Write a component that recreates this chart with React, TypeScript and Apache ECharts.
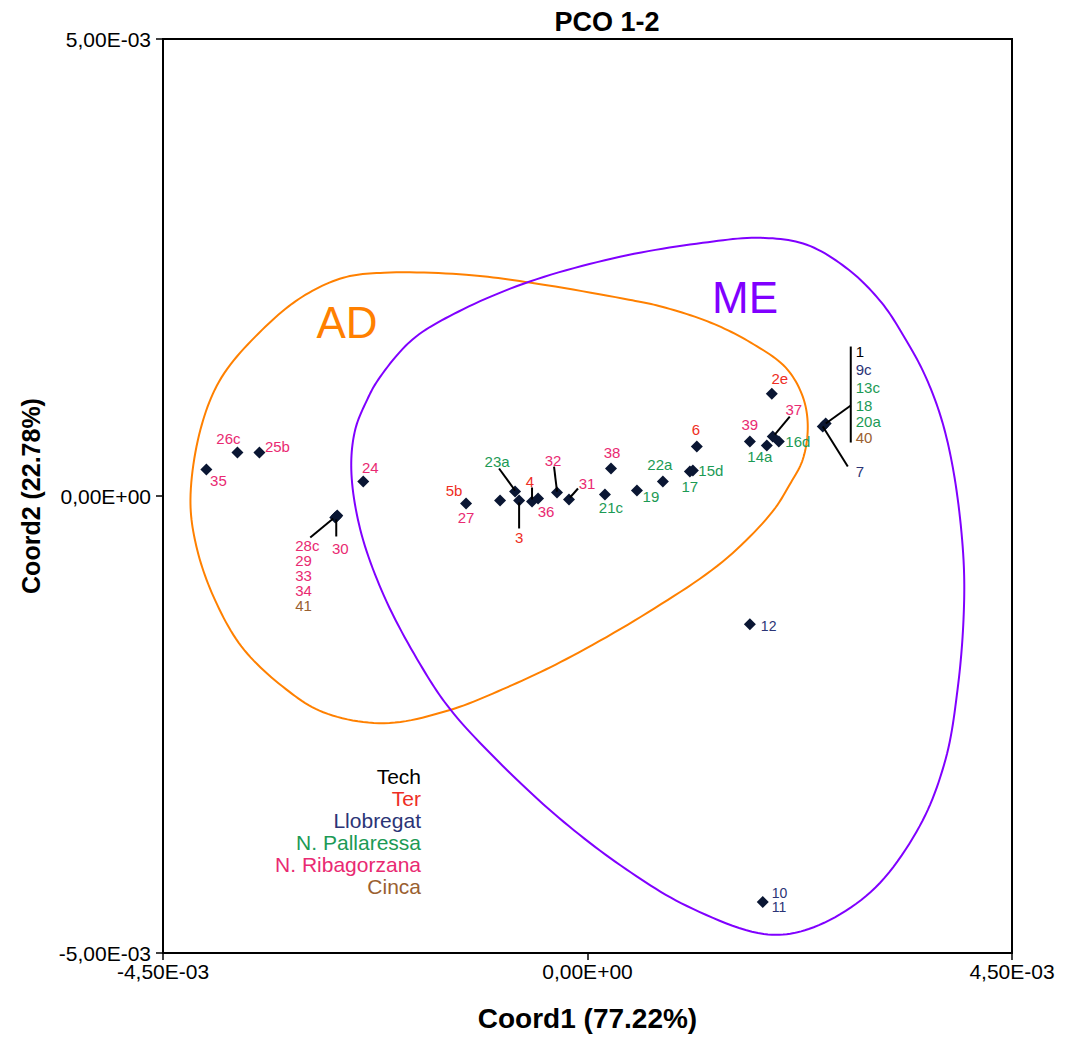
import React, { useEffect, useRef } from "react";
import * as echarts from "echarts";

// ---------- data ----------
const pointIds = [
  "35", "26c", "25b", "24", "28c", "29", "30", "27", "u", "23a", "3", "4", "36", "32", "31",
  "38", "21c", "19", "22a", "17", "15d", "6", "2e", "39", "14a", "37", "16d", "7", "1", "12", "10",
];
const coord1 = [
  -4.04e-3, -3.711e-3, -3.478e-3, -2.377e-3, -2.674e-3, -2.653e-3, -2.66e-3, -1.287e-3, -0.927e-3, -0.768e-3,
  -0.725e-3, -0.588e-3, -0.524e-3, -0.323e-3, -0.196e-3, 0.249e-3, 0.185e-3, 0.524e-3, 0.799e-3, 1.085e-3,
  1.117e-3, 1.159e-3, 1.954e-3, 1.721e-3, 1.901e-3, 1.964e-3, 2.028e-3, 2.494e-3, 2.525e-3, 1.721e-3, 1.858e-3,
];
const coord2 = [
  0.29e-3, 0.475e-3, 0.475e-3, 0.158e-3, -0.235e-3, -0.213e-3, -0.225e-3, -0.082e-3, -0.049e-3, 0.049e-3,
  -0.049e-3, -0.06e-3, -0.027e-3, 0.038e-3, -0.038e-3, 0.301e-3, 0.016e-3, 0.06e-3, 0.158e-3, 0.268e-3,
  0.279e-3, 0.541e-3, 1.12e-3, 0.596e-3, 0.552e-3, 0.65e-3, 0.596e-3, 0.76e-3, 0.792e-3, -1.404e-3, -4.443e-3,
];

// group outlines (Coord1, Coord2)
const adX = [
  -4.209e-3, -4.146e-3, -3.966e-3, -3.669e-3, -3.235e-3, -2.801e-3, -2.155e-3, -1.467e-3, -0.852e-3, -0.228e-3,
  0.641e-3, 1.435e-3, 1.954e-3, 2.144e-3, 2.282e-3, 2.335e-3, 2.282e-3, 2.102e-3, 1.731e-3, 1.308e-3,
  0.789e-3, 0.439e-3, -0.598e-3, -1.287e-3, -2.155e-3, -2.589e-3, -3.023e-3, -3.447e-3, -3.881e-3, -4.103e-3,
];
const adY = [
  -0.038e-3, -0.552e-3, -1.098e-3, -1.645e-3, -2.082e-3, -2.366e-3, -2.486e-3, -2.344e-3, -2.093e-3, -1.786e-3,
  -1.273e-3, -0.716e-3, -0.18e-3, 0.126e-3, 0.399e-3, 0.76e-3, 1.087e-3, 1.404e-3, 1.678e-3, 1.896e-3,
  2.071e-3, 2.148e-3, 2.333e-3, 2.421e-3, 2.443e-3, 2.388e-3, 2.18e-3, 1.82e-3, 1.295e-3, 0.727e-3,
];
const meX = [
  -2.504e-3, -2.462e-3, -2.335e-3, -2.218e-3, -1.858e-3, -1.371e-3, -0.619e-3, 0.344e-3, 1.223e-3, 1.837e-3,
  2.324e-3, 2.769e-3, 3.118e-3, 3.362e-3, 3.574e-3, 3.754e-3, 3.891e-3, 3.986e-3, 3.986e-3, 3.923e-3,
  3.796e-3, 3.521e-3, 3.002e-3, 2.345e-3, 1.869e-3, 1.054e-3, 0.408e-3, -0.249e-3, -0.895e-3, -1.456e-3,
  -1.774e-3, -2.155e-3, -2.409e-3,
];
const meY = [
  0.29e-3, 0.727e-3, 1.055e-3, 1.273e-3, 1.71e-3, 2.016e-3, 2.344e-3, 2.617e-3, 2.77e-3, 2.825e-3,
  2.749e-3, 2.475e-3, 2.115e-3, 1.732e-3, 1.328e-3, 0.836e-3, 0.202e-3, -0.694e-3, -1.35e-3, -2.115e-3,
  -2.88e-3, -3.612e-3, -4.333e-3, -4.738e-3, -4.792e-3, -4.486e-3, -4.082e-3, -3.568e-3, -2.956e-3, -2.333e-3,
  -1.841e-3, -1.098e-3, -0.366e-3,
];

const groupNames = ["Tech", "Ter", "Llobregat", "N. Pallaressa", "N. Ribagorzana", "Cinca"];
const groupColors = ["#000000", "#ee2e24", "#2b3476", "#1c9a55", "#e92a72", "#9a6030"];

// label annotations: point, text, group index
const labelAt = ["35","26c","25b","24","28c","28c","28c","28c","28c","28c","27","27","23a","3","4","36","32","31","38","21c","19","22a","17","15d","6","2e","39","14a","37","16d","7","7","7","7","7","7","7","12","10","10"];
const labelText = ["35","26c","25b","24","28c","29","33","34","41","30","5b","27","23a","3","4","36","32","31","38","21c","19","22a","17","15d","6","2e","39","14a","37","16d","1","9c","13c","18","20a","40","7","12","10","11"];
const labelGroup = [4,4,4,4,4,4,4,4,5,4,1,4,3,1,1,4,4,4,4,3,3,3,3,3,1,1,4,3,4,3,0,2,3,3,3,5,2,2,2,2];

// ---------- layout (pixel offsets from the point: dx, dy, align, font size) ----------
const labelLayout: [number, number, string, number][] = [
  [12, 11, "center", 15], [-9, -14, "center", 15], [18, -6, "center", 15], [7, -14, "center", 15],
  [-40, 28, "left", 15], [-40, 43, "left", 15], [-40, 58, "left", 15], [-40, 73, "left", 15], [-40, 88, "left", 15], [5, 31, "center", 15],
  [-12, -13, "center", 15], [0, 14, "center", 15], [-18, -30, "center", 15], [0, 37, "center", 15], [-2, -20, "center", 15],
  [8, 13, "center", 15], [-4, -32, "center", 15], [18, -16, "center", 15], [1, -16, "center", 15], [6, 13, "center", 15],
  [14, 6, "center", 15], [-3, -17, "center", 15], [0, 15, "center", 15], [18, 0, "center", 15], [-1, -17, "center", 15],
  [8, -15, "center", 15], [0, -17, "center", 15], [-7, 11, "center", 15], [21, -27, "center", 15], [19, 0, "center", 15],
  [33, -75, "left", 15], [33, -57, "left", 15], [33, -39, "left", 15], [33, -21, "left", 15], [33, -5, "left", 15], [33, 11, "left", 15], [33, 45, "left", 15],
  [11, 2, "left", 14], [9, -9, "left", 14], [9, 5, "left", 14],
];
const leaderAt = ["28c", "28c", "23a", "3", "4", "32", "31", "37", "7", "7", "7"];
const leaderSeg: [number, number, number, number][] = [
  [-25, 20, -2, 1], [1, 19, 1, 2], [-16, -23, 0, -1], [0, 2, 0, 28], [0, -14, 0, -2], [-3, -26, 0, -1],
  [9, -11, 1, -2], [17, -20, 2, -2], [28, -80, 28, 16], [28, -21, 3, -3], [0, 0, 25, 40],
];

const FONT = "'Liberation Sans', Arial, Helvetica, sans-serif";

function sci(v: number): string {
  if (Math.abs(v) < 1e-12) return "0,00E+00";
  let e = Math.floor(Math.log10(Math.abs(v)) + 1e-9);
  let m = v / Math.pow(10, e);
  if (Math.abs(m) >= 9.995) {
    m /= 10;
    e += 1;
  }
  const ms = m.toFixed(2).replace(".", ",");
  const es = (e < 0 ? "-" : "+") + String(Math.abs(e)).padStart(2, "0");
  return ms + "E" + es;
}

// closed centripetal Catmull-Rom curve through pixel points (drawing helper only)
function closedSpline(pts: number[][], steps: number): number[][] {
  const n = pts.length;
  const out: number[][] = [];
  const dist = (a: number[], b: number[]) => Math.max(1e-6, Math.pow(Math.hypot(b[0] - a[0], b[1] - a[1]), 0.5));
  for (let i = 0; i < n; i++) {
    const P0 = pts[(i - 1 + n) % n], P1 = pts[i], P2 = pts[(i + 1) % n], P3 = pts[(i + 2) % n];
    const t0 = 0, t1 = t0 + dist(P0, P1), t2 = t1 + dist(P1, P2), t3 = t2 + dist(P2, P3);
    for (let s = 0; s < steps; s++) {
      const t = t1 + ((t2 - t1) * s) / steps;
      const lerp = (a: number[], b: number[], ta: number, tb: number) => [
        ((tb - t) / (tb - ta)) * a[0] + ((t - ta) / (tb - ta)) * b[0],
        ((tb - t) / (tb - ta)) * a[1] + ((t - ta) / (tb - ta)) * b[1],
      ];
      const A1 = lerp(P0, P1, t0, t1), A2 = lerp(P1, P2, t1, t2), A3 = lerp(P2, P3, t2, t3);
      const B1 = lerp(A1, A2, t0, t2), B2 = lerp(A2, A3, t1, t3);
      out.push(lerp(B1, B2, t1, t2));
    }
  }
  return out;
}

function outline(xs: number[], ys: number[], color: string) {
  return {
    type: "custom",
    coordinateSystem: "cartesian2d",
    silent: true,
    clip: false,
    z: 1,
    data: [[0, 0]],
    renderItem: (_p: any, api: any) => ({
      type: "polygon",
      shape: { points: closedSpline(xs.map((x, i) => api.coord([x, ys[i]])), 12) },
      style: { fill: "none", stroke: color, lineWidth: 2 },
    }),
  };
}

export default function App() {
  const ref = useRef<HTMLDivElement>(null);
  useEffect(() => {
    if (!ref.current) return;
    const chart = echarts.init(ref.current, null, { renderer: "svg" });
    const axisCommon = {
      type: "value",
      splitLine: { show: false },
      axisLine: { show: true, onZero: false, lineStyle: { color: "#000", width: 2 } },
      axisTick: { show: true, length: 7, lineStyle: { color: "#000", width: 1.5 } },
      axisLabel: { formatter: (v: number) => sci(v), color: "#000", fontSize: 21, fontFamily: FONT },
      nameLocation: "middle",
      nameTextStyle: { color: "#000", fontWeight: "bold", fontFamily: FONT },
    };
    chart.setOption({
      animation: false,
      backgroundColor: "#fff",
      grid: { left: 163, right: 56, top: 39, bottom: 83, show: true, borderColor: "#000", borderWidth: 2 },
      xAxis: {
        ...axisCommon,
        min: -0.0045,
        max: 0.0045,
        interval: 0.0045,
        name: "Coord1 (77.22%)",
        nameGap: 51,
        axisLabel: { ...axisCommon.axisLabel, margin: 8 },
        nameTextStyle: { ...axisCommon.nameTextStyle, fontSize: 28 },
      },
      yAxis: {
        ...axisCommon,
        min: -0.005,
        max: 0.005,
        interval: 0.005,
        name: "Coord2 (22.78%)",
        nameGap: 120,
        axisLabel: { ...axisCommon.axisLabel, margin: 12 },
        nameTextStyle: { ...axisCommon.nameTextStyle, fontSize: 25 },
      },
      series: [
        outline(adX, adY, "#ff8000"),
        outline(meX, meY, "#8000ff"),
        {
          type: "scatter",
          symbol: "diamond",
          symbolSize: 12,
          z: 3,
          itemStyle: { color: "#0a1633", opacity: 1 },
          data: pointIds.map((id, i) => ({ name: id, value: [coord1[i], coord2[i]] })),
        },
      ],
    });

    const pix = (id: string) => {
      const i = pointIds.indexOf(id);
      return chart.convertToPixel({ gridIndex: 0 }, [coord1[i], coord2[i]]) as number[];
    };
    const graphics: any[] = [];
    leaderAt.forEach((id, k) => {
      const p = pix(id);
      const s = leaderSeg[k];
      graphics.push({
        type: "line",
        z: 10,
        silent: true,
        shape: { x1: p[0] + s[0], y1: p[1] + s[1], x2: p[0] + s[2], y2: p[1] + s[3] },
        style: { stroke: "#000", lineWidth: 2 },
      });
    });
    labelAt.forEach((id, k) => {
      const p = pix(id);
      const l = labelLayout[k];
      graphics.push({
        type: "text",
        z: 11,
        silent: true,
        x: p[0] + l[0],
        y: p[1] + l[1],
        style: {
          text: labelText[k],
          fill: groupColors[labelGroup[k]],
          fontSize: l[3],
          fontFamily: FONT,
          align: l[2],
          verticalAlign: "middle",
        },
      });
    });
    // group names inside the outlines
    graphics.push({
      type: "text", z: 11, silent: true, x: 347, y: 322,
      style: { text: "AD", fill: "#ff8000", fontSize: 44, fontFamily: FONT, align: "center", verticalAlign: "middle" },
    });
    graphics.push({
      type: "text", z: 11, silent: true, x: 745, y: 297,
      style: { text: "ME", fill: "#8000ff", fontSize: 44, fontFamily: FONT, align: "center", verticalAlign: "middle" },
    });
    // legend of river groups
    groupNames.forEach((g, i) => {
      graphics.push({
        type: "text", z: 11, silent: true, x: 421, y: 776 + i * 22,
        style: { text: g, fill: groupColors[i], fontSize: 21, fontFamily: FONT, align: "right", verticalAlign: "middle" },
      });
    });
    // title
    graphics.push({
      type: "text", z: 11, silent: true, x: 607, y: 22,
      style: { text: "PCO 1-2", fill: "#000", fontSize: 27, fontWeight: "bold", fontFamily: FONT, align: "center", verticalAlign: "middle" },
    });
    chart.setOption({ graphic: graphics });

    return () => chart.dispose();
  }, []);
  return (
    <div
      ref={ref}
      style={{ position: "absolute", left: 0, top: 0, width: 1068, height: 1037, background: "#fff" }}
    />
  );
}
